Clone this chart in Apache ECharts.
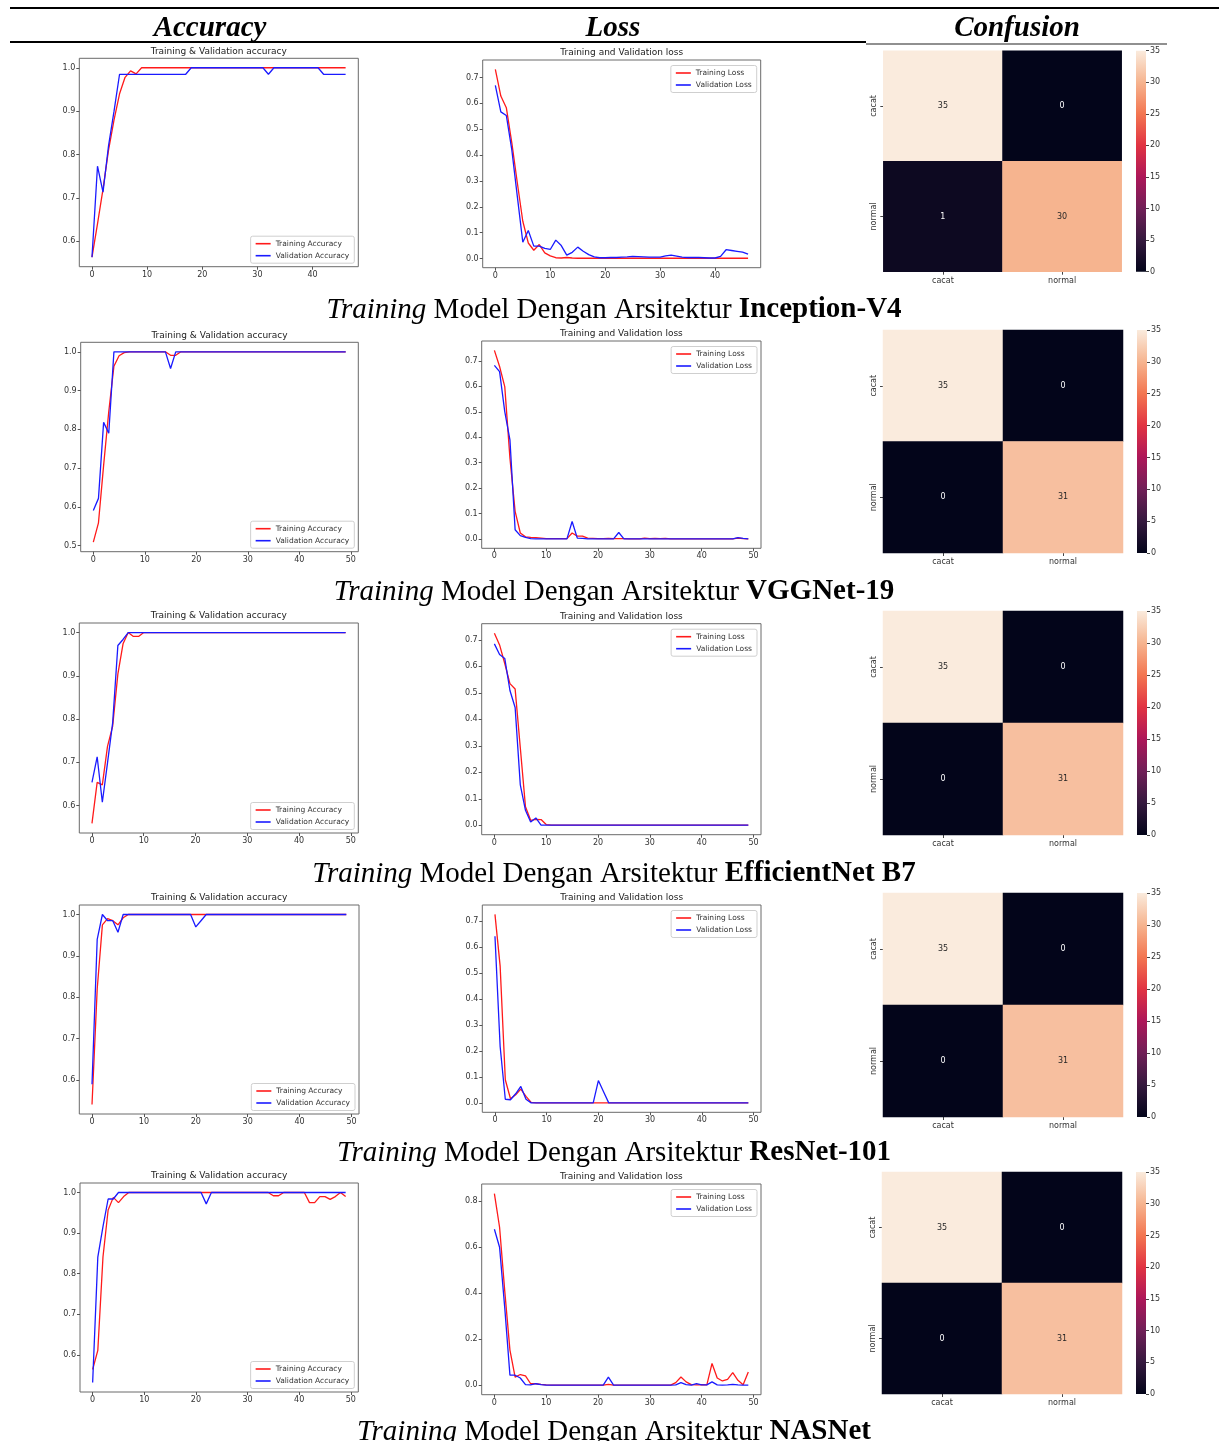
<!DOCTYPE html>
<html><head><meta charset="utf-8">
<script src="https://cdn.jsdelivr.net/npm/echarts@6/dist/echarts.min.js"></script>
<style>html,body{margin:0;padding:0;background:#fff;}#c{width:1219px;height:1441px;}</style>
</head><body><div id="c"></div>
<script>
// ---------------- DATA ----------------
const headers = ['Accuracy', 'Loss', 'Confusion'];
const architectures = ['Inception-V4', 'VGGNet-19', 'EfficientNet B7', 'ResNet-101', 'NASNet'];
const accNames = ['Training Accuracy', 'Validation Accuracy'];
const lossNames = ['Training Loss', 'Validation Loss'];
const cmLabels = ['cacat', 'normal'];
const epochTicks47 = [0, 10, 20, 30, 40];
const epochTicks50 = [0, 10, 20, 30, 40, 50];
const accTicksA = [0.6, 0.7, 0.8, 0.9, 1.0];
const accTicksB = [0.5, 0.6, 0.7, 0.8, 0.9, 1.0];
const lossTicksA = [0.0, 0.1, 0.2, 0.3, 0.4, 0.5, 0.6, 0.7];
const lossTicksB = [0.0, 0.2, 0.4, 0.6, 0.8];
const colorbarTicks = [0, 5, 10, 15, 20, 25, 30, 35];

const accTrainInception = [0.563,0.64,0.72,0.81,0.88,0.94,0.978,0.993,0.986,
 1,1,1,1,1,1,1,1,1,1, 1,1,1,1,1,1,1,1,1,1, 1,1,1,1,1,1,1,1,1,1, 1,1,1,1,1,1,1,1];
const accValInception = [0.563,0.773,0.713,0.82,0.90,
 0.985,0.985,0.985,0.985,0.985,0.985,0.985,0.985,0.985,0.985,0.985,0.985,0.985,
 1,1,1,1,1,1,1,1,1,1,1,1,1,1,
 0.985,
 1,1,1,1,1,1,1,1,1,
 0.985,0.985,0.985,0.985,0.985];
const lossTrainInception = [0.731,0.628,0.583,0.447,0.293,0.144,0.06,0.032,0.054,0.022,0.01,0.003,0.002,0.004,0.002,
 0.001,0.001,0.001,0.001,0.001,0.001,0.001,0.001,0.001,0.001,
 0.001,0.001,0.001,0.001,0.001,0.001,0.001,0.001,0.001,0.001,
 0.001,0.001,0.001,0.001,0.001,0.001,0.001,0.001,0.001,0.001,
 0.001,0.001];
const lossValInception = [0.669,0.567,0.553,0.42,0.24,0.063,0.108,0.048,0.048,0.039,
 0.035,0.071,0.05,0.013,0.024,0.044,0.028,0.015,0.006,0.003,
 0.003,0.004,0.004,0.005,0.006,0.008,0.007,0.006,0.005,0.005,
 0.005,0.01,0.013,0.009,0.005,0.004,0.004,0.004,0.003,0.002,
 0.002,0.008,0.034,0.031,0.028,0.025,0.017];

const accTrainVGG = [0.509,0.559,0.707,0.846,0.963,0.99,0.998,
 1,1,1,1,1,1,1,1,
 0.991,0.991,
 1,1,1,1,1,1,1,1,1,1, 1,1,1,1,1,1,1,1,1,1, 1,1,1,1,1,1,1,1,1,1, 1,1,1];
const accValVGG = [0.591,0.622,0.818,0.79,
 1,1,1,1,1,1,1,1,1,1,1,
 0.957,
 1,1,1,1,1,1,1,1,1,1, 1,1,1,1,1,1,1,1,1,1, 1,1,1,1,1,1,1,1,1,1, 1,1,1,1];
const lossTrainVGG = [0.741,0.678,0.599,0.318,0.109,0.024,0.009,0.007,0.006,0.004,
 0.002,0.002,0.002,0.002,0.002,0.024,0.012,0.012,0.004,0.003,
 0.002,0.002,0.003,0.002,0.002,0.002,0.001,0.001,0.001,0.004,
 0.002,0.003,0.002,0.003,0.001,0.001,0.001,0.001,0.001,0.001,
 0.001,0.001,0.001,0.001,0.001,0.001,0.001,0.004,0.002,0.001];
const lossValVGG = [0.682,0.658,0.501,0.39,0.037,0.014,0.007,0.002,0.001,0.001,
 0.001,0.001,0.001,0.001,0.001,0.069,0.004,0.003,0.001,0.001,
 0.001,0.001,0.001,0.001,0.026,0.001,0.001,0.001,0.001,0.001,
 0.001,0.001,0.001,0.001,0.001,0.001,0.001,0.001,0.001,0.001,
 0.001,0.001,0.001,0.001,0.001,0.001,0.001,0.006,0.003,0.001];

const accTrainEff = [0.559,0.654,0.648,0.737,0.784,0.904,0.974,1,0.991,0.991,
 1,1,1,1,1,1,1,1,1,1, 1,1,1,1,1,1,1,1,1,1, 1,1,1,1,1,1,1,1,1,1, 1,1,1,1,1,1,1,1,1,1];
const accValEff = [0.654,0.713,0.608,0.699,0.792,0.970,0.984,1,1,1,
 1,1,1,1,1,1,1,1,1,1, 1,1,1,1,1,1,1,1,1,1, 1,1,1,1,1,1,1,1,1,1, 1,1,1,1,1,1,1,1,1,1];
const lossTrainEff = [0.725,0.681,0.611,0.535,0.515,0.293,0.07,0.019,0.023,0.022,
 0.003,0.001,0.001,0.001,0.001,0.001,0.001,0.001,0.001,0.001,
 0.001,0.001,0.001,0.001,0.001,0.001,0.001,0.001,0.001,0.001,
 0.001,0.001,0.001,0.001,0.001,0.001,0.001,0.001,0.001,0.001,
 0.001,0.001,0.001,0.001,0.001,0.001,0.001,0.001,0.001,0.001];
const lossValEff = [0.685,0.645,0.63,0.509,0.445,0.153,0.057,0.013,0.028,0.001,
 0.001,0.001,0.001,0.001,0.001,0.001,0.001,0.001,0.001,0.001,
 0.001,0.001,0.001,0.001,0.001,0.001,0.001,0.001,0.001,0.001,
 0.001,0.001,0.001,0.001,0.001,0.001,0.001,0.001,0.001,0.001,
 0.001,0.001,0.001,0.001,0.001,0.001,0.001,0.001,0.001,0.001];

const accTrainRes = [0.541,0.82,0.975,0.99,0.985,0.975,0.992,1,1,1,
 1,1,1,1,1,1,1,1,1,1, 1,1,1,1,1,1,1,1,1,1, 1,1,1,1,1,1,1,1,1,1, 1,1,1,1,1,1,1,1,1,1];
const accValRes = [0.59,0.94,1,0.985,0.985,0.957,1,1,1,1,
 1,1,1,1,1,1,1,1,1,1,
 0.970,0.985,1,1,1,1,1,1,1,1,
 1,1,1,1,1,1,1,1,1,1, 1,1,1,1,1,1,1,1,1,1];
const lossTrainRes = [0.726,0.527,0.09,0.017,0.032,0.054,0.026,0.003,0.001,0.001,
 0.001,0.001,0.001,0.001,0.001,0.001,0.001,0.001,0.001,0.001,
 0.001,0.001,0.001,0.001,0.001,0.001,0.001,0.001,0.001,0.001,
 0.001,0.001,0.001,0.001,0.001,0.001,0.001,0.001,0.001,0.001,
 0.001,0.001,0.001,0.001,0.001,0.001,0.001,0.001,0.001,0.001];
const lossValRes = [0.642,0.218,0.015,0.013,0.036,0.064,0.015,0.001,0.001,0.001,
 0.001,0.001,0.001,0.001,0.001,0.001,0.001,0.001,0.001,0.001,
 0.087,0.044,0.001,0.001,0.001,0.001,0.001,0.001,0.001,0.001,
 0.001,0.001,0.001,0.001,0.001,0.001,0.001,0.001,0.001,0.001,
 0.001,0.001,0.001,0.001,0.001,0.001,0.001,0.001,0.001,0.001];

const accTrainNas = [0.564,0.611,0.841,0.957,0.988,0.975,0.99,1,1,1,
 1,1,1,1,1,1,1,1,1,1,
 1,1,1,1,1,1,1,1,1,1,
 1,1,1,1,1,0.992,0.992,1,1,1,
 1,1,0.975,0.975,0.99,0.99,0.983,0.99,1,0.99];
const accValNas = [0.532,0.841,0.916,0.984,0.984,1,1,1,1,1,
 1,1,1,1,1,1,1,1,1,1,
 1,1,0.972,1,1,1,1,1,1,1,
 1,1,1,1,1,1,1,1,1,1, 1,1,1,1,1,1,1,1,1,1];
const lossTrainNas = [0.832,0.686,0.409,0.153,0.036,0.047,0.041,0.007,0.007,0.004,
 0.002,0.001,0.001,0.001,0.001,0.001,0.001,0.001,0.001,0.001,
 0.001,0.001,0.004,0.001,0.001,0.001,0.001,0.001,0.001,0.001,
 0.001,0.001,0.001,0.001,0.001,0.012,0.036,0.015,0.003,0.002,
 0.003,0.002,0.095,0.032,0.019,0.026,0.055,0.022,0.003,0.058];
const lossValNas = [0.677,0.599,0.336,0.044,0.044,0.032,0.003,0.002,0.007,0.003,
 0.001,0.001,0.001,0.001,0.001,0.001,0.001,0.001,0.001,0.001,
 0.001,0.001,0.036,0.001,0.001,0.001,0.001,0.001,0.001,0.001,
 0.001,0.001,0.001,0.001,0.001,0.002,0.012,0.003,0.001,0.007,
 0.002,0.002,0.015,0.002,0.001,0.002,0.004,0.002,0.001,0.001];

const cmInception = [[35, 0], [1, 30]];
const cmVGG = [[35, 0], [0, 31]];
const cmEff = [[35, 0], [0, 31]];
const cmRes = [[35, 0], [0, 31]];
const cmNas = [[35, 0], [0, 31]];

// seaborn "rocket" colormap stops (0,5,...,35)
const rocket = ['#03051a', '#35193e', '#701f57', '#ad1759', '#e13342', '#f37651', '#f6b48f', '#faebdd'];

// ---------------- LAYOUT ----------------
const W = 1219, H = 1441;
const FONT = 'DejaVu Sans';
const SERIF = 'Liberation Serif';
const rows = [
  { acc: [accTrainInception, accValInception], loss: [lossTrainInception, lossValInception], cm: cmInception, xt: epochTicks47, at: accTicksA, lt: lossTicksA,
    accBox: [79.3, 58.3, 358.3, 266.7], lossBox: [482.7, 60, 760.7, 267.7], heatBox: [883.3, 50.7, 1121.7, 271.7], cbx: 1136, cap: 310 },
  { acc: [accTrainVGG, accValVGG], loss: [lossTrainVGG, lossValVGG], cm: cmVGG, xt: epochTicks50, at: accTicksB, lt: lossTicksA,
    accBox: [80.7, 342.3, 358.3, 551.7], lossBox: [481.7, 341, 761, 548.3], heatBox: [883, 330, 1123, 553], cbx: 1137, cap: 592 },
  { acc: [accTrainEff, accValEff], loss: [lossTrainEff, lossValEff], cm: cmEff, xt: epochTicks50, at: accTicksA, lt: lossTicksA,
    accBox: [79.3, 623, 358.3, 833], lossBox: [481.7, 623.7, 761, 834.7], heatBox: [883, 611, 1123, 835], cbx: 1137, cap: 874 },
  { acc: [accTrainRes, accValRes], loss: [lossTrainRes, lossValRes], cm: cmRes, xt: epochTicks50, at: accTicksA, lt: lossTicksA,
    accBox: [79.3, 905, 359, 1114], lossBox: [482.3, 905, 761, 1112.3], heatBox: [883, 893, 1123, 1117], cbx: 1137, cap: 1153 },
  { acc: [accTrainNas, accValNas], loss: [lossTrainNas, lossValNas], cm: cmNas, xt: epochTicks50, at: accTicksA, lt: lossTicksB,
    accBox: [80, 1183, 358.3, 1392], lossBox: [481.7, 1184, 761, 1394.7], heatBox: [882, 1172, 1122, 1394], cbx: 1136, cap: 1432 }
];

const option = { animation: false, backgroundColor: '#fff', grid: [], xAxis: [], yAxis: [], series: [], legend: [], graphic: [], visualMap: [] };
const heatSeries = [];

function addGrid(box, show) {
  option.grid.push({ left: box[0], top: box[1], width: box[2] - box[0], height: box[3] - box[1],
    show: show, borderColor: '#6a6a6a', borderWidth: 1, backgroundColor: 'transparent', containLabel: false });
  return option.grid.length - 1;
}
function txt(x, y, text, size, extra) {
  option.graphic.push({ type: 'text', silent: true, style: Object.assign({ x: x, y: y, text: text, fill: '#222',
    fontSize: size, fontFamily: FONT, align: 'center', verticalAlign: 'middle', textAlign: 'center', textVerticalAlign: 'middle' }, extra || {}) });
}

function lineChart(box, pair, names, xTicks, yTicks, title, legendAtBottom) {
  const gi = addGrid(box, true);
  const n = Math.max(pair[0].length, pair[1].length) - 1;
  const all = pair[0].concat(pair[1]);
  const lo = Math.min.apply(null, all), hi = Math.max.apply(null, all), m = (hi - lo) * 0.05;
  const tickStyle = { show: true, length: 3, inside: false, lineStyle: { color: '#555', width: 1 } };
  option.xAxis.push({ type: 'value', gridIndex: gi, position: 'bottom', min: -n * 0.05, max: n * 1.05,
    axisLine: { show: false, onZero: false }, splitLine: { show: false },
    axisTick: Object.assign({ customValues: xTicks }, tickStyle),
    axisLabel: { customValues: xTicks, fontSize: 8, color: '#333', fontFamily: FONT, margin: 4 } });
  option.yAxis.push({ type: 'value', gridIndex: gi, position: 'left', min: lo - m, max: hi + m,
    axisLine: { show: false, onZero: false }, splitLine: { show: false },
    axisTick: Object.assign({ customValues: yTicks }, tickStyle),
    axisLabel: { customValues: yTicks, fontSize: 8, color: '#333', fontFamily: FONT, margin: 4, formatter: v => Number(v).toFixed(1) } });
  const xi = option.xAxis.length - 1, yi = option.yAxis.length - 1;
  const cols = ['#ff1a1a', '#1a1aff'];
  pair.forEach((arr, k) => {
    option.series.push({ type: 'line', name: names[k], xAxisIndex: xi, yAxisIndex: yi,
      data: arr.map((v, i) => [i, v]), symbol: 'none', showSymbol: false, silent: true,
      lineStyle: { color: cols[k], width: 1.3 }, itemStyle: { color: cols[k] }, z: 2 + k });
  });
  const lg = { data: names.map(nm => ({ name: nm, icon: 'rect' })), orient: 'vertical', align: 'left', itemWidth: 15, itemHeight: 1.6, itemGap: 3,
    padding: [3, 5, 3, 5], borderColor: '#cfcfcf', borderWidth: 1, borderRadius: 2, backgroundColor: 'rgba(255,255,255,0.85)',
    selectedMode: false, textStyle: { fontSize: 7.5, color: '#333', fontFamily: FONT, lineHeight: 9 }, right: W - (box[2] - 4) };
  if (legendAtBottom) lg.bottom = H - (box[3] - 3.5); else lg.top = box[1] + 5.5;
  option.legend.push(lg);
  txt((box[0] + box[2]) / 2, box[1] - 7, title, 9);
}

function heatmap(box, cm, cbx) {
  const gi = addGrid(box, false);
  const tick = { show: true, alignWithLabel: true, length: 3, lineStyle: { color: '#444' } };
  option.xAxis.push({ type: 'category', gridIndex: gi, data: cmLabels, axisLine: { show: false, onZero: false }, splitLine: { show: false },
    axisTick: tick, axisLabel: { fontSize: 8, color: '#333', fontFamily: FONT, margin: 5 } });
  option.yAxis.push({ type: 'category', gridIndex: gi, data: cmLabels, inverse: true, axisLine: { show: false, onZero: false }, splitLine: { show: false },
    axisTick: tick, axisLabel: { fontSize: 8, color: '#333', fontFamily: FONT, margin: 5, rotate: 90 } });
  const xi = option.xAxis.length - 1, yi = option.yAxis.length - 1;
  const data = [];
  cm.forEach((row, r) => row.forEach((v, c) => {
    data.push({ value: [c, r, v], label: { color: v > 17.5 ? '#262626' : '#ffffff' } });
  }));
  heatSeries.push(option.series.length);
  option.series.push({ type: 'heatmap', xAxisIndex: xi, yAxisIndex: yi, data: data, silent: true,
    label: { show: true, fontSize: 8, fontFamily: FONT }, emphasis: { disabled: true }, itemStyle: { borderWidth: 0 } });
  // colorbar
  const cbBox = [cbx, box[1], cbx + 10, box[3]];
  const cg = addGrid(cbBox, false);
  option.xAxis.push({ type: 'category', gridIndex: cg, data: [''], show: false });
  option.yAxis.push({ type: 'value', gridIndex: cg, position: 'right', min: 0, max: 35, interval: 5,
    axisLine: { show: false, onZero: false }, splitLine: { show: false },
    axisTick: { show: true, length: 3, lineStyle: { color: '#444' } },
    axisLabel: { fontSize: 8, color: '#333', fontFamily: FONT, margin: 4 } });
  option.series.push({ type: 'bar', xAxisIndex: option.xAxis.length - 1, yAxisIndex: option.yAxis.length - 1,
    data: [colorbarTicks[colorbarTicks.length - 1]], barWidth: '100%', silent: true,
    itemStyle: { color: new echarts.graphic.LinearGradient(0, 1, 0, 0, rocket.map((c, i) => ({ offset: i / (rocket.length - 1), color: c }))) } });
}

rows.forEach((r, k) => {
  lineChart(r.accBox, r.acc, accNames, r.xt, r.at, 'Training & Validation accuracy', true);
  lineChart(r.lossBox, r.loss, lossNames, r.xt, r.lt, 'Training and Validation loss', false);
  heatmap(r.heatBox, r.cm, r.cbx);
  option.graphic.push({ type: 'text', silent: true, style: {
    x: 614, y: r.cap, text: '{i|Training} Model Dengan Arsitektur {b|' + architectures[k] + '}',
    fill: '#000', fontSize: 29, fontFamily: SERIF, align: 'center', verticalAlign: 'middle', textAlign: 'center', textVerticalAlign: 'middle',
    rich: { i: { fontStyle: 'italic', fontSize: 29, fontFamily: SERIF, fill: '#000' },
            b: { fontWeight: 'bold', fontSize: 29, fontFamily: SERIF, fill: '#000' } } } });
});

option.visualMap.push({ type: 'continuous', show: false, min: 0, max: 35, dimension: 2, seriesIndex: heatSeries, inRange: { color: rocket } });

// header
const hx = [210, 613, 1017];
headers.forEach((h, i) => txt(hx[i], 29, h, 29, { fontFamily: SERIF, fontStyle: 'italic', fontWeight: 'bold', fill: '#000' }));
option.graphic.push({ type: 'line', silent: true, shape: { x1: 10, y1: 8, x2: 1219, y2: 8 }, style: { stroke: '#000', lineWidth: 2 } });
option.graphic.push({ type: 'line', silent: true, shape: { x1: 10, y1: 42, x2: 866, y2: 42 }, style: { stroke: '#000', lineWidth: 2 } });
option.graphic.push({ type: 'line', silent: true, shape: { x1: 866, y1: 44, x2: 1167, y2: 44 }, style: { stroke: '#222', lineWidth: 1.2 } });

const chart = echarts.init(document.getElementById('c'), null, { renderer: 'canvas', width: W, height: H });
chart.setOption(option);
</script></body></html>
